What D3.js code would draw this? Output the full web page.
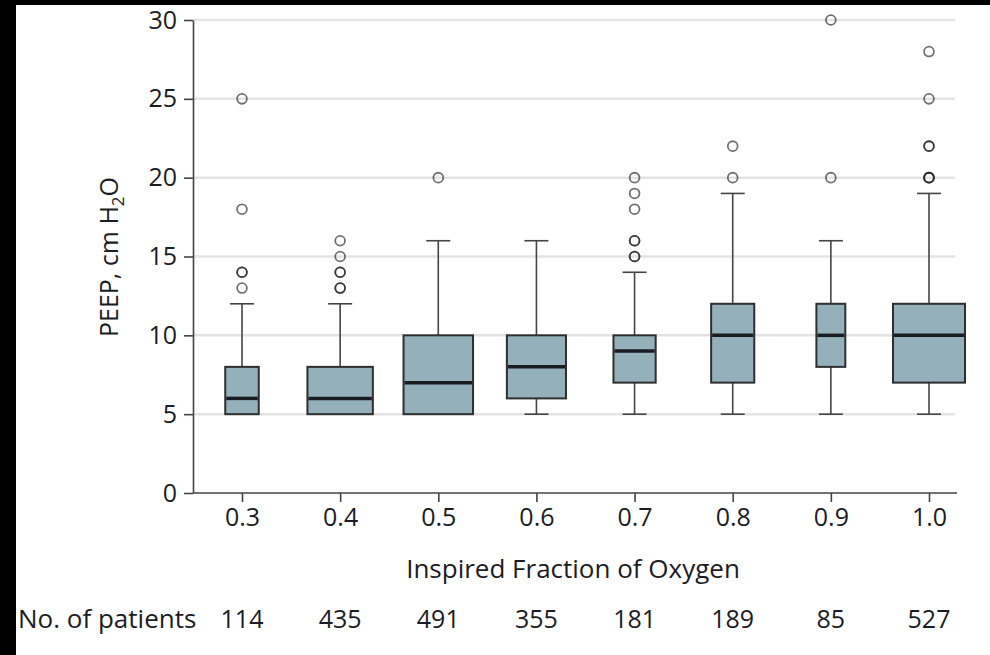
<!DOCTYPE html>
<html>
<head>
<meta charset="utf-8">
<script src="https://cdn.jsdelivr.net/npm/d3@7/dist/d3.min.js"></script>
<style>
  html, body { margin: 0; padding: 0; background: #000; }
  svg { display: block; }
  text { font-family: "Open Sans", "Noto Sans", sans-serif; fill: #1c1c24; font-weight: 500; }
</style>
</head>
<body>
<svg id="chart" width="990" height="655"></svg>
<script>
// PEEP by inspired fraction of oxygen (box plots, width ~ sqrt(n))
const fio2 = ["0.3", "0.4", "0.5", "0.6", "0.7", "0.8", "0.9", "1.0"];
const patients = [114, 435, 491, 355, 181, 189, 85, 527];
const whiskerLow = [5, 5, 5, 5, 5, 5, 5, 5];
const q1 = [5, 5, 5, 6, 7, 7, 8, 7];
const median = [6, 6, 7, 8, 9, 10, 10, 10];
const q3 = [8, 8, 10, 10, 10, 12, 12, 12];
const whiskerHigh = [12, 12, 16, 16, 14, 19, 16, 19];
// repeated values overlap and read darker
const outliers = [
  [13, 14, 14, 18, 25],
  [13, 13, 14, 14, 15, 16],
  [20],
  [],
  [15, 15, 16, 16, 18, 19, 20],
  [20, 22],
  [20, 30],
  [20, 20, 20, 22, 22, 25, 28]
];
const yTicks = [0, 5, 10, 15, 20, 25, 30];

const svg = d3.select("#chart");

// page frame
svg.append("rect").attr("x", 16).attr("y", 5).attr("width", 974).attr("height", 650).attr("fill", "#fff");

const plotLeft = 193, plotRight = 957, plotTop = 20, plotBottom = 493;

const x = d3.scalePoint().domain(fio2).range([242, 929]);
const y = d3.scaleLinear().domain([0, 30]).range([plotBottom, plotTop]);
const w = d3.scaleSqrt().domain([0, 527]).range([0, 72]);

// gridlines
svg.append("g").selectAll("line")
  .data(yTicks.filter(d => d > 0))
  .join("line")
  .attr("x1", plotLeft).attr("x2", 955)
  .attr("y1", d => y(d)).attr("y2", d => y(d))
  .attr("stroke", "#e3e3e3").attr("stroke-width", 2.5);

// y axis
const yAxis = svg.append("g")
  .attr("transform", `translate(${plotLeft},0)`)
  .call(d3.axisLeft(y).tickValues(yTicks).tickSize(9).tickSizeOuter(0).tickPadding(7));
yAxis.select(".domain").attr("stroke", "#444").attr("stroke-width", 1.6);
yAxis.selectAll(".tick line").attr("stroke", "#444").attr("stroke-width", 1.6);
yAxis.selectAll(".tick text").attr("font-size", 25).attr("font-family", null).attr("fill", null);

// x axis
const xAxis = svg.append("g")
  .attr("transform", `translate(0,${plotBottom})`)
  .call(d3.axisBottom(x).tickSize(9).tickSizeOuter(0).tickPadding(6));
xAxis.select(".domain").remove();
xAxis.append("line").attr("x1", plotLeft).attr("x2", plotRight)
  .attr("stroke", "#444").attr("stroke-width", 1.6);
xAxis.selectAll(".tick line").attr("stroke", "#444").attr("stroke-width", 1.6);
xAxis.selectAll(".tick text").attr("font-size", 25).attr("font-family", null).attr("fill", null);

// boxes
const boxes = svg.append("g").selectAll("g")
  .data(fio2.map((f, i) => ({ f, i })))
  .join("g");

const cap = 24;
boxes.append("line")
  .attr("x1", d => x(d.f)).attr("x2", d => x(d.f))
  .attr("y1", d => y(whiskerLow[d.i])).attr("y2", d => y(whiskerHigh[d.i]))
  .attr("stroke", "#444").attr("stroke-width", 1.6);
boxes.append("line")
  .attr("x1", d => x(d.f) - cap / 2).attr("x2", d => x(d.f) + cap / 2)
  .attr("y1", d => y(whiskerLow[d.i])).attr("y2", d => y(whiskerLow[d.i]))
  .attr("stroke", "#444").attr("stroke-width", 1.6);
boxes.append("line")
  .attr("x1", d => x(d.f) - cap / 2).attr("x2", d => x(d.f) + cap / 2)
  .attr("y1", d => y(whiskerHigh[d.i])).attr("y2", d => y(whiskerHigh[d.i]))
  .attr("stroke", "#444").attr("stroke-width", 1.6);
boxes.append("rect")
  .attr("x", d => x(d.f) - w(patients[d.i]) / 2)
  .attr("width", d => w(patients[d.i]))
  .attr("y", d => y(q3[d.i]))
  .attr("height", d => y(q1[d.i]) - y(q3[d.i]))
  .attr("fill", "#94b1bb").attr("stroke", "#2e2e2e").attr("stroke-width", 2);
boxes.append("line")
  .attr("x1", d => x(d.f) - w(patients[d.i]) / 2 + 1)
  .attr("x2", d => x(d.f) + w(patients[d.i]) / 2 - 1)
  .attr("y1", d => y(median[d.i])).attr("y2", d => y(median[d.i]))
  .attr("stroke", "#1b1b22").attr("stroke-width", 3.5);

// outliers
boxes.selectAll("circle")
  .data(d => outliers[d.i].map(v => ({ f: d.f, v })))
  .join("circle")
  .attr("cx", d => x(d.f)).attr("cy", d => y(d.v)).attr("r", 4.9)
  .attr("fill", "none").attr("stroke", "#1a1a1a").attr("stroke-opacity", 0.62)
  .attr("stroke-width", 1.8);

// axis titles
svg.append("text")
  .attr("x", 573).attr("y", 578).attr("text-anchor", "middle")
  .attr("font-size", 26).text("Inspired Fraction of Oxygen");

const yLabel = svg.append("text")
  .attr("transform", "translate(118,257) rotate(-90)")
  .attr("text-anchor", "middle").attr("font-size", 25);
yLabel.append("tspan").text("PEEP, cm H");
yLabel.append("tspan").attr("font-size", 17).attr("dy", 6).text("2");
yLabel.append("tspan").attr("dy", -6).text("O");

// patient counts row
svg.append("text").attr("x", 18).attr("y", 628).attr("font-size", 26).text("No. of patients");
svg.append("g").selectAll("text")
  .data(fio2.map((f, i) => ({ f, n: patients[i] })))
  .join("text")
  .attr("x", d => x(d.f)).attr("y", 628).attr("text-anchor", "middle")
  .attr("font-size", 25).text(d => d.n);
</script>
</body>
</html>
